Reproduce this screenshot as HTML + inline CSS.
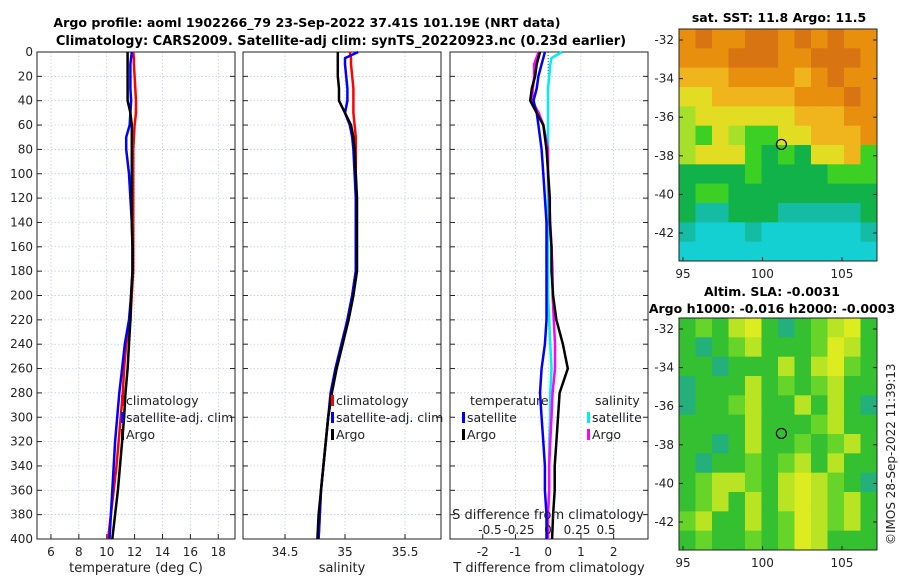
<!DOCTYPE html>
<html><head><meta charset="utf-8"><style>
body{margin:0;background:#fff;}
svg{display:block;font-family:"DejaVu Sans","Liberation Sans",sans-serif;}
</style></head><body>
<svg id="chart" width="900" height="580">
<text x="307" y="27" text-anchor="middle" font-size="12.6" font-weight="bold">Argo profile: aoml 1902266_79 23-Sep-2022 37.41S 101.19E (NRT data)</text>
<text x="341" y="45" text-anchor="middle" font-size="13" font-weight="bold">Climatology: CARS2009. Satellite-adj clim: synTS_20220923.nc (0.23d earlier)</text>
<text x="779" y="22" text-anchor="middle" font-size="12.5" font-weight="bold">sat. SST: 11.8 Argo: 11.5</text>
<text x="772" y="296" text-anchor="middle" font-size="12.5" font-weight="bold">Altim. SLA: -0.0031</text>
<text x="772" y="313" text-anchor="middle" font-size="12.5" font-weight="bold">Argo h1000: -0.016 h2000: -0.0003</text>
<text transform="translate(895,545) rotate(-90)" font-size="12" fill="#222">©IMOS 28-Sep-2022 11:39:13</text>
<g id="g"></g>
</svg>
<script>
// depth axis data
const depthTicks=[0,20,40,60,80,100,120,140,160,180,200,220,240,260,280,300,320,340,360,380,400];
const depths=[0,5,10,20,30,40,50,60,70,80,100,120,140,160,180,200,220,240,260,280,300,320,340,360,380,400];
// temperature
const tempArgo=[11.5,11.5,11.5,11.5,11.5,11.5,11.7,11.8,11.8,11.8,11.8,11.8,11.8,11.85,11.85,11.75,11.7,11.6,11.5,11.35,11.25,11.1,10.95,10.8,10.6,10.4];
const tempClim=[11.9,11.95,11.95,12.0,12.05,12.1,12.1,12.0,11.95,11.9,11.9,11.9,11.9,11.9,11.9,11.8,11.7,11.4,11.25,11.15,11.0,10.85,10.7,10.5,10.3,10.1];
const tempSat=[11.8,11.75,11.7,11.7,11.7,11.75,11.7,11.65,11.4,11.4,11.6,11.7,11.8,11.85,11.85,11.75,11.6,11.3,11.1,10.9,10.75,10.6,10.5,10.4,10.3,10.2];
const tempTicks=[6,8,10,12,14,16,18];
// salinity
const salArgo=[34.94,34.94,34.94,34.94,34.95,34.95,35.0,35.05,35.07,35.08,35.09,35.1,35.1,35.1,35.1,35.07,35.03,34.98,34.93,34.89,34.86,34.84,34.82,34.8,34.78,34.77];
const salClim=[35.04,35.05,35.05,35.06,35.07,35.07,35.07,35.08,35.09,35.09,35.09,35.09,35.09,35.09,35.09,35.06,35.02,34.98,34.93,34.89,34.86,34.84,34.82,34.8,34.79,34.78];
const salSat=[35.11,35.0,35.0,35.01,35.02,35.02,35.0,35.04,35.06,35.07,35.08,35.09,35.09,35.09,35.09,35.06,35.02,34.97,34.92,34.88,34.86,34.84,34.82,34.8,34.79,34.78];
const salTicks=[34.5,35,35.5];
// differences
const dTArgo=[-0.25,-0.3,-0.35,-0.4,-0.5,-0.55,-0.35,-0.15,-0.1,-0.05,0.0,0.05,0.05,0.1,0.1,0.15,0.25,0.45,0.6,0.35,0.3,0.25,0.2,0.2,0.15,0.12];
const dTSat=[-0.1,-0.15,-0.2,-0.3,-0.35,-0.45,-0.35,-0.3,-0.25,-0.2,-0.15,-0.1,-0.05,-0.05,-0.05,-0.05,-0.05,-0.1,-0.2,-0.25,-0.2,-0.15,-0.1,-0.1,-0.05,-0.05];
const dSArgo=[-0.08,-0.1,-0.12,-0.12,-0.13,-0.14,-0.08,-0.04,-0.02,0.0,0.0,0.01,0.02,0.03,0.04,0.04,0.05,0.06,0.06,0.04,0.03,0.02,0.01,0.01,0.0,0.0];
const dSSat=[0.12,0.03,0.02,0.01,0.0,0.0,0.0,0.0,0.0,0.0,0.0,0.0,0.0,0.0,0.0,0.0,0.01,0.02,0.03,0.02,0.02,0.01,0.01,0.01,0.0,0.0];
const dTTicks=[-2,-1,0,1,2];
const dSTicks=[-0.5,-0.25,0,0.25,0.5];
const dSTickLabels=["-0.5","-0.25","0","0.25","0.5"];
// maps
const lonTicks=[95,100,105];
const latTicks=[-32,-34,-36,-38,-40,-42];
const sstGrid=["OoOOooOoOoOO","OOOoooOOoooO","aaaOOOOaOoOO","yyaaaaaOOOoO","lyyyyyyaaaOO","lGylGGyyaaaO","lyyyGgGgyyaG","ggggGggggGGG","gGGggggggggg","gttgggtttttg","tccctcccccct","cccccccccccc"];
const slaGrid=["gGgYygtgGYyg","gtgGYgggGyYg","ggtgggYgYyGg","tgggYgGgGYgg","tggGYggYgYgt","ggggYgggGYgg","ggtgYggGgGYg","gtggGgGYgYgg","gGYYGgYyYGgt","gGYgYgYyYGYg","GYggYgGyYGYg","gGggGgGyYggg"];
const palette={o:"#d87412",O:"#e8900e",a:"#f0b41c",y:"#e2dc22",l:"#a6e02a",G:"#3cd024",g:"#12b24a",t:"#14bca4",c:"#14d0d2"};
const slaPal={g:"#34c030",G:"#66d428",Y:"#b8e424",y:"#dcec20",t:"#24b07a"};

const NS="http://www.w3.org/2000/svg";
const G=document.getElementById('g');
function mk(tag,attrs,parent){const e=document.createElementNS(NS,tag);for(const k in attrs)e.setAttribute(k,attrs[k]);(parent||G).appendChild(e);return e;}
const Y0=52,Y1=539;
const yD=d=>Y0+(Y1-Y0)*d/400;

function panel(name,x0,x1,xmin,xmax,ticks,labels,xlabel,showY){
  const xs=v=>x0+(x1-x0)*(v-xmin)/(xmax-xmin);
  const g=mk('g',{});
  
  
  depthTicks.forEach(d=>{
    const l=mk('line',{x1:x0,x2:x1,y1:yD(d),y2:yD(d),stroke:"#b8c4ee","stroke-width":0.7,"stroke-dasharray":"1.5,2"},g);
    
    
    mk('line',{x1:x0,x2:x0+5,y1:yD(d),y2:yD(d),stroke:"#222"},g);
    mk('line',{x1:x1-5,x2:x1,y1:yD(d),y2:yD(d),stroke:"#222"},g);
    if(showY){const t=mk('text',{x:x0-4,y:yD(d)+4,"text-anchor":"end","font-size":12,fill:"#222"},g);t.textContent=d;
      
      }
  });
  ticks.forEach((v,i)=>{
    const l=mk('line',{x1:xs(v),x2:xs(v),y1:Y0,y2:Y1,stroke:"#b8c4ee","stroke-width":0.7,"stroke-dasharray":"1.5,2"},g);
    
    
    mk('line',{x1:xs(v),x2:xs(v),y1:Y1-5,y2:Y1,stroke:"#222"},g);
    const t=mk('text',{x:xs(v),y:556,"text-anchor":"middle","font-size":12,fill:"#222"},g);t.textContent=labels[i];
    
    
  });
  mk('rect',{x:x0,y:Y0,width:x1-x0,height:Y1-Y0,fill:"none",stroke:"#222","stroke-width":1},g);
  const xl=mk('text',{x:(x0+x1)/2,y:572,"text-anchor":"middle","font-size":13,fill:"#222"},g);xl.textContent=xlabel;
  
  
  return {g,xs};
}
function line(p,vals,color,w,name){
  const pts=vals.map((v,i)=>p.xs(v).toFixed(1)+","+yD(depths[i]).toFixed(1)).join(" ");
  const e=mk('polyline',{points:pts,fill:"none",stroke:color,"stroke-width":w,"stroke-linejoin":"round"},p.g);
  
  
}
function leg(p,x,y,color,label,name){
  mk('rect',{x:x,y:y-10,width:3,height:11,fill:color},p.g);
  const t=mk('text',{x:x+5,y:y,"font-size":12.5,fill:"#222"},p.g);t.textContent=label;
  
  
}
// panel 1
const p1=panel('temperature-panel',37,235,5,19.2,tempTicks,tempTicks.map(String),'temperature (deg C)',true);
line(p1,tempClim,"#f00",2.5,'temp-climatology-line');
line(p1,tempSat,"#00f",2.5,'temp-satellite-line');
line(p1,tempArgo,"#000",2.5,'temp-argo-line');
leg(p1,121,405,"#f00","climatology",'legend-climatology');
leg(p1,121,422,"#00f","satellite-adj. clim",'legend-satellite-adj');
leg(p1,121,439,"#000","Argo",'legend-argo');
// panel 2
const p2=panel('salinity-panel',243,441,34.15,35.8,salTicks,["34.5","35","35.5"],'salinity',false);
line(p2,salClim,"#f00",2.5,'sal-climatology-line');
line(p2,salSat,"#00f",2.5,'sal-satellite-line');
line(p2,salArgo,"#000",2.5,'sal-argo-line');
leg(p2,331,405,"#f00","climatology",'legend-climatology-2');
leg(p2,331,422,"#00f","satellite-adj. clim",'legend-satellite-adj-2');
leg(p2,331,439,"#000","Argo",'legend-argo-2');
// panel 3
const p3=panel('difference-panel',450,648,-3.0,3.05,dTTicks,dTTicks.map(String),'T difference from climatology',false);
mk('line',{x1:p3.xs(0),x2:p3.xs(0),y1:Y0,y2:yD(200),stroke:"#444","stroke-width":1,"stroke-dasharray":"1,2"},p3.g);
const xsS=v=>548+116*v;
const p3s={g:p3.g,xs:xsS};
line(p3s,dSSat,"#0ee",2.5,'sal-diff-satellite-line');
line(p3s,dSArgo,"#f0f",2.5,'sal-diff-argo-line');
line(p3,dTSat,"#00f",2.5,'temp-diff-satellite-line');
line(p3,dTArgo,"#000",2.5,'temp-diff-argo-line');
let t=mk('text',{x:470,y:405,"font-size":12.5,fill:"#222"},p3.g);t.textContent="temperature";


t=mk('text',{x:595,y:405,"font-size":12.5,fill:"#222"},p3.g);t.textContent="salinity";


leg(p3,462,422,"#00f","satellite",'legend-t-satellite');
leg(p3,462,439,"#000","Argo",'legend-t-argo');
leg(p3,587,422,"#0ee","satellite",'legend-s-satellite');
leg(p3,587,439,"#f0f","Argo",'legend-s-argo');
t=mk('text',{x:548,y:519,"text-anchor":"middle","font-size":13,fill:"#222"},p3.g);t.textContent="S difference from climatology";


dSTicks.forEach((v,i)=>{const e=mk('text',{x:xsS(v),y:534,"text-anchor":"middle","font-size":12,fill:"#222"},p3.g);e.textContent=dSTickLabels[i];
  
  });

// maps
function map(name,x0,y0,grid,pal){
  const w=198,h=232,lonMin=94.75,lonMax=94.75+w/15.9,latTop=-31.43,latBot=latTop-h/19.3;
  const xs=v=>x0+(v-lonMin)/(lonMax-lonMin)*w, ys=v=>y0+(latTop-v)/(latTop-latBot)*h;
  const g=mk('g',{});
  
  
  const rows=grid.length,cols=grid[0].length,cw=w/cols,ch=h/rows;
  grid.forEach((r,i)=>{for(let j=0;j<cols;j++){const c=mk('rect',{x:x0+j*cw,y:y0+i*ch,width:cw+0.5,height:ch+0.5,fill:pal[r[j]]},g);
    
    }});
  mk('rect',{x:x0,y:y0,width:w,height:h,fill:"none",stroke:"#222"},g);
  lonTicks.forEach(v=>{mk('line',{x1:xs(v),x2:xs(v),y1:y0+h-4,y2:y0+h,stroke:"#222"},g);
    const e=mk('text',{x:xs(v),y:y0+h+17,"text-anchor":"middle","font-size":12,fill:"#222"},g);e.textContent=v;
    
    });
  latTicks.forEach(v=>{mk('line',{x1:x0,x2:x0+4,y1:ys(v),y2:ys(v),stroke:"#222"},g);mk('line',{x1:x0+w-4,x2:x0+w,y1:ys(v),y2:ys(v),stroke:"#222"},g);
    const e=mk('text',{x:x0-5,y:ys(v)+4,"text-anchor":"end","font-size":12,fill:"#222"},g);e.textContent=v;
    
    });
  const m=mk('circle',{cx:xs(101.19),cy:ys(-37.41),r:5,fill:"none",stroke:"#000","stroke-width":1.2},g);
  
  
}
map('sst-map',679,29,sstGrid,palette);
map('sla-map',679,318,slaGrid,slaPal);
</script>
</body></html>
